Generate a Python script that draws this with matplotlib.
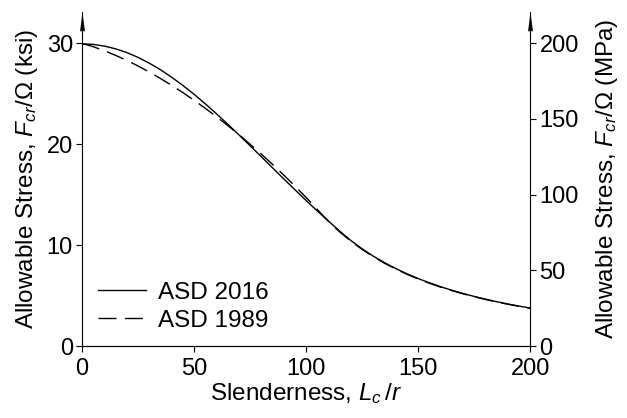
import matplotlib
matplotlib.use("Agg")
import matplotlib.pyplot as plt
from matplotlib.path import Path

plt.rcParams['font.family'] = ['Liberation Sans', 'DejaVu Sans']
plt.rcParams['mathtext.fontset'] = 'custom'
plt.rcParams['mathtext.rm'] = 'Liberation Sans'
plt.rcParams['mathtext.it'] = 'Liberation Sans:italic'
plt.rcParams['mathtext.bf'] = 'Liberation Sans:bold'

slenderness = [0, 5, 10, 15, 20, 25, 30, 35, 40, 45, 50, 55, 60, 65, 70, 75, 80,
               85, 90, 95, 100, 105, 110, 113.4, 115, 120, 125, 130, 135, 140, 145,
               150, 155, 160, 165, 170, 175, 180, 185, 190, 195, 200]
asd_2016 = [29.94, 29.89, 29.72, 29.45, 29.08, 28.60, 28.03, 27.38, 26.63, 25.82,
            24.94, 24.00, 23.01, 21.98, 20.92, 19.84, 18.75, 17.65, 16.56, 15.48,
            14.41, 13.37, 12.36, 11.69, 11.37, 10.44, 9.62, 8.89, 8.25, 7.67, 7.15,
            6.68, 6.26, 5.87, 5.52, 5.20, 4.91, 4.64, 4.39, 4.16, 3.95, 3.76]
slenderness_1989 = [0, 5, 10, 15, 20, 25, 30, 35, 40, 45, 50, 55, 60, 65, 70, 75,
                    80, 85, 90, 95, 100, 105, 107, 110, 115, 120, 125, 130, 135, 140,
                    145, 150, 155, 160, 165, 170, 175, 180, 185, 190, 195, 200]
asd_1989 = [30.00, 29.66, 29.26, 28.80, 28.30, 27.75, 27.15, 26.51, 25.83, 25.11,
            24.35, 23.55, 22.72, 21.85, 20.94, 19.99, 19.01, 17.99, 16.94, 15.84,
            14.71, 13.53, 13.04, 12.34, 11.29, 10.37, 9.56, 8.84, 8.19, 7.62, 7.10,
            6.64, 6.22, 5.83, 5.49, 5.17, 4.88, 4.61, 4.36, 4.14, 3.93, 3.73]

x_ticks = [0, 50, 100, 150, 200]
ksi_ticks = [0, 10, 20, 30]
mpa_ticks = [0, 50, 100, 150, 200]

fig = plt.figure(figsize=(6.27, 4.18), dpi=100)
ax = fig.add_axes([0.1308, 0.1722, 0.846 - 0.1308, 0.9713 - 0.1722])

ax.plot(slenderness, asd_2016, color='black', lw=1.0, label='ASD 2016')
ax.plot(slenderness_1989, asd_1989, color='black', lw=1.0, dashes=(13, 6),
        label='ASD 1989')

ytop = 33.1
ax.set_xlim(0, 200)
ax.set_ylim(0, ytop)
ax.set_xticks(x_ticks)
ax.set_yticks(ksi_ticks)
ax.spines['top'].set_visible(False)
ax.spines['right'].set_visible(False)
tfs = 17
lfs = 17.5
ax.tick_params(axis='y', direction='out', length=4, width=0.8, labelsize=tfs,
               pad=2.5)
ax.tick_params(axis='x', direction='out', length=4, width=0.8, labelsize=tfs,
               pad=4.5)
ax.set_xlabel('Slenderness, $L_c\\,/r$', fontsize=lfs, labelpad=1)
ax.set_ylabel('Allowable Stress, $F_{cr}/\\Omega$ (ksi)', fontsize=lfs, labelpad=5)

ax2 = ax.twinx()
ax2.set_ylim(0, ytop * 200 / 30)
ax2.set_yticks(mpa_ticks)
ax2.spines['top'].set_visible(False)
ax2.spines['left'].set_visible(False)
ax2.tick_params(axis='y', direction='out', length=4, width=0.8, labelsize=tfs,
                pad=2.5)
ax2.set_ylabel('Allowable Stress, $F_{cr}/\\Omega$ (MPa)', fontsize=lfs, labelpad=11)

arrow = Path([(-0.13, -1.0), (0.13, -1.0), (0.0, 0.0), (-0.13, -1.0)],
             [Path.MOVETO, Path.LINETO, Path.LINETO, Path.CLOSEPOLY])
for xpos in (0, 1):
    ax.plot([xpos], [1], marker=arrow, markersize=27, color='black',
            transform=ax.transAxes, clip_on=False, markeredgewidth=0)

leg = ax.legend(loc='lower left', bbox_to_anchor=(0.036, 0.042), frameon=False,
                fontsize=lfs, handlelength=1.95, handletextpad=0.5,
                labelspacing=0.25, borderaxespad=0.0, borderpad=0.0)

fig.savefig('out.png', dpi=100)
